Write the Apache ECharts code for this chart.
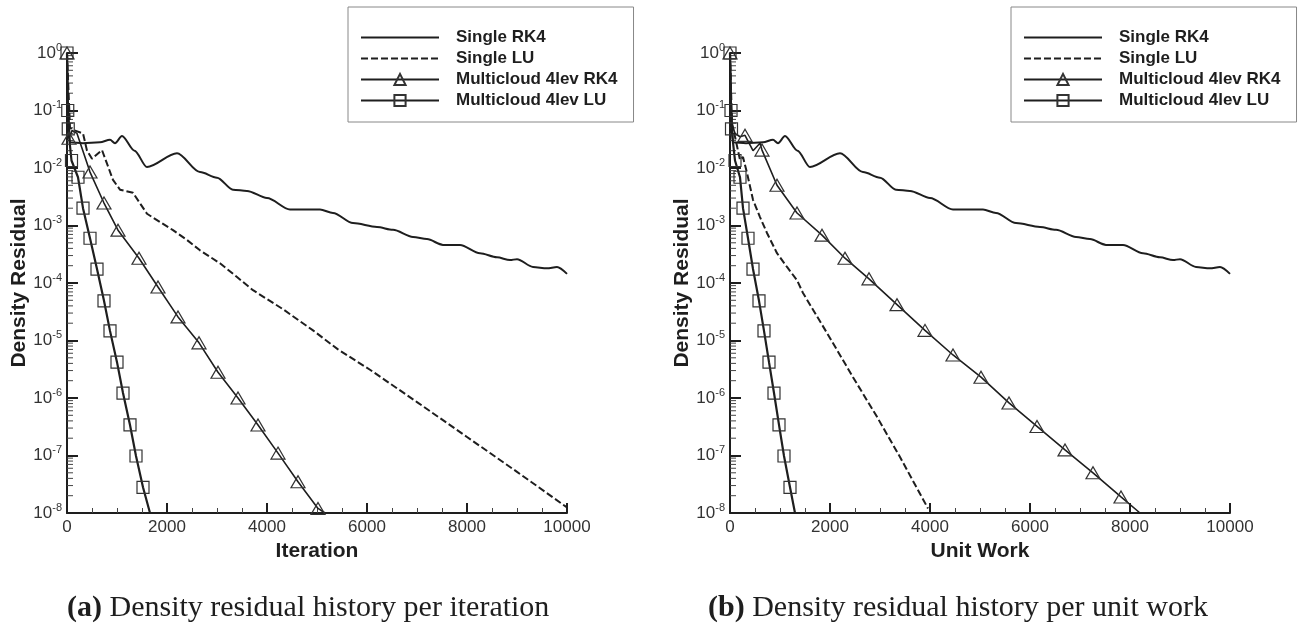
<!DOCTYPE html>
<html><head><meta charset="utf-8">
<script src="https://cdn.jsdelivr.net/npm/echarts@6/dist/echarts.min.js"></script>
<style>html,body{margin:0;padding:0;background:#fff}#c{width:1307px;height:632px}</style>
</head><body><div id="c"></div>
<script>
// ---- names & labels ----
const seriesNames = ['Single RK4', 'Single LU', 'Multicloud 4lev RK4', 'Multicloud 4lev LU'];
const xNames = ['Iteration', 'Unit Work'];
const yName = 'Density Residual';
const captions = [['(a)', ' Density residual history per iteration'], ['(b)', ' Density residual history per unit work']];

// ---- (a) per iteration ----
const singleRk4 = [[0,1],[20,0.12],[60,0.028],[320,0.027],[660,0.028],[860,0.031],[960,0.027],[1100,0.036],[1350,0.02],[1600,0.0104],[2200,0.018],[2660,0.0085],[3000,0.0068],[3320,0.0042],[3600,0.0040],[4000,0.0030],[4460,0.0019],[4860,0.0019],[5060,0.0019],[5320,0.00165],[5720,0.0011],[6200,0.00094],[6520,0.00084],[6920,0.00063],[7200,0.00058],[7520,0.00046],[7860,0.00046],[8260,0.00033],[8600,0.00028],[8860,0.00025],[9000,0.00026],[9320,0.00019],[9600,0.00018],[9800,0.00019],[10000,0.000144]];
const singleLuIter = [[0,1],[60,0.05],[120,0.046],[320,0.04],[400,0.02],[500,0.0145],[700,0.0205],[920,0.0062],[1060,0.0042],[1320,0.0037],[1600,0.0016],[1860,0.00115],[2120,0.00083],[2400,0.00056],[2660,0.00037],[3060,0.00022],[3400,0.000127],[3720,7.5e-5],[4320,3.5e-5],[4920,1.5e-5],[5420,7e-6],[6060,3.1e-6],[7000,8.5e-7],[8000,2.1e-7],[9000,5.2e-8],[10000,1.25e-8]];
const mcRk4IterLine = [[20,0.07],[100,0.045],[200,0.04],[300,0.022],[5160,1e-8]];
const mcRk4IterMarks = [[0,1],[40,0.033],[460,0.0085],[740,0.00246],[1020,0.00083],[1440,0.00027],[1820,8.5e-5],[2220,2.57e-5],[2640,9.1e-6],[3020,2.8e-6],[3420,1.0e-6],[3820,3.4e-7],[4220,1.1e-7],[4620,3.5e-8],[5020,1.2e-8]];
const mcLuIterLine = [[1660,1e-8]];
const mcLuIterMarks = [[0,1],[15,0.1],[25,0.048],[90,0.0135],[220,0.0069],[320,0.002],[460,0.0006],[600,0.000175],[740,4.9e-5],[860,1.47e-5],[1000,4.2e-6],[1120,1.22e-6],[1260,3.4e-7],[1380,9.8e-8],[1520,2.8e-8]];

// ---- (b) per unit work ----
const singleLuWork = [[0,1],[40,0.06],[100,0.035],[200,0.0138],[260,0.0155],[340,0.0082],[460,0.0028],[600,0.0014],[740,0.00074],[940,0.00033],[1140,0.00019],[1340,0.000112],[1460,6.7e-5],[1940,1.35e-5],[2460,2.3e-6],[2940,4.7e-7],[3400,9.4e-8],[3960,1.2e-8]];
const mcRk4WorkLine = [[30,0.06],[100,0.04],[200,0.035],[460,0.02],[600,0.027],[8200,1e-8]];
const mcRk4WorkMarks = [[0,1],[300,0.037],[640,0.0205],[940,0.005],[1340,0.00165],[1840,0.00068],[2300,0.00027],[2780,0.000118],[3340,4.2e-5],[3900,1.5e-5],[4460,5.6e-6],[5020,2.3e-6],[5580,8.2e-7],[6140,3.2e-7],[6700,1.25e-7],[7260,5.0e-8],[7820,1.9e-8]];
const mcLuWorkLine = [[1300,1e-8]];
const mcLuWorkMarks = [[0,1],[20,0.1],[30,0.048],[100,0.0135],[200,0.0069],[260,0.002],[360,0.0006],[460,0.000175],[580,4.9e-5],[680,1.47e-5],[780,4.2e-6],[880,1.22e-6],[980,3.4e-7],[1080,9.8e-8],[1200,2.8e-8]];

// axis range
const xMin = 0, xMax = 10000, xStep = 2000;
const yMin = 1e-8, yMax = 1;

// log minor tick positions (axis decoration)
const yMinor = [];
for (let e = -8; e < 0; e++) for (let m = 2; m <= 9; m++) yMinor.push(m * Math.pow(10, e));

const SANS = 'Liberation Sans, Arial, sans-serif';
const SERIF = 'Liberation Serif, Times New Roman, serif';
const INK = '#1e1e1e';

function merge(line, marks) {
  const pts = line.map(p => ({ value: p, symbol: 'none' })).concat(marks.map(p => ({ value: p })));
  pts.sort((a, b) => a.value[0] - b.value[0]);
  return pts;
}

const grids = [
  { left: 67, top: 53, width: 500, height: 460 },
  { left: 730, top: 53, width: 500, height: 460 }
];

function xAxis(i) {
  return {
    gridIndex: i, type: 'value', min: xMin, max: xMax, interval: xStep,
    name: xNames[i], nameLocation: 'middle', nameGap: 22,
    nameTextStyle: { fontFamily: SANS, fontWeight: 'bold', fontSize: 21, color: INK },
    axisLine: { lineStyle: { color: INK, width: 2 } },
    axisTick: { inside: true, length: 10, lineStyle: { color: INK, width: 2 } },
    minorTick: { show: true, splitNumber: 4, length: 5, lineStyle: { color: '#444', width: 1 } },
    splitLine: { show: false },
    axisLabel: { fontFamily: SANS, fontSize: 17, color: '#333', margin: 6, showMinLabel: true, showMaxLabel: true,
      formatter: v => String(v) }
  };
}
function yAxis(i) {
  return {
    gridIndex: i, type: 'log', logBase: 10, min: yMin, max: yMax, interval: 1,
    name: yName, nameLocation: 'middle', nameGap: 37, nameRotate: 90,
    nameTextStyle: { fontFamily: SANS, fontWeight: 'bold', fontSize: 21, color: INK },
    axisLine: { onZero: false, lineStyle: { color: INK, width: 2 } },
    axisTick: { inside: true, length: 11, lineStyle: { color: INK, width: 2 } },
    splitLine: { show: false },
    axisLabel: {
      margin: 5, showMinLabel: true, showMaxLabel: true,
      formatter: v => '{b|10}{s|' + Math.round(Math.log10(v)) + '}',
      rich: {
        b: { fontFamily: SANS, fontSize: 17, color: '#333', lineHeight: 22 },
        s: { fontFamily: SANS, fontSize: 11, color: '#333', verticalAlign: 'top', lineHeight: 12 }
      }
    }
  };
}

function lineSeries(i, name, data, extra) {
  return Object.assign({
    type: 'line', name, xAxisIndex: i, yAxisIndex: i, data,
    symbol: 'none', smooth: false, animation: false,
    lineStyle: { color: INK, width: 2 },
    itemStyle: { color: 'rgba(255,255,255,0)', borderColor: '#333', borderWidth: 1.2 },
    emphasis: { disabled: true }
  }, extra || {});
}

function minorTicks(i) {
  return {
    type: 'custom', xAxisIndex: i, yAxisIndex: i, silent: true, clip: false, animation: false,
    data: yMinor.map(v => [xMin, v]),
    renderItem: (params, api) => {
      const p = api.coord([api.value(0), api.value(1)]);
      return { type: 'line', shape: { x1: p[0], y1: p[1], x2: p[0] + 6, y2: p[1] }, style: { stroke: '#444', lineWidth: 1 } };
    }
  };
}

const tri = { symbol: 'triangle', symbolSize: [14, 12], showSymbol: true, showAllSymbol: true };
const sq = { symbol: 'rect', symbolSize: 12, showSymbol: true, showAllSymbol: true };
const dashed = { lineStyle: { color: INK, width: 2, type: [7, 3] } };
const soft = { smooth: 0.3, smoothMonotone: 'x' };

function legend(left) {
  return {
    left, top: 7, orient: 'vertical',
    data: seriesNames.map((n, k) => k < 2 ? { name: n, itemStyle: { opacity: 0 } } : { name: n }),
    padding: [20, 16, 11, 12], borderColor: '#888', borderWidth: 1, backgroundColor: '#fff',
    itemWidth: 78, itemHeight: 14, itemGap: 0,
    selectedMode: false,
    textStyle: { fontFamily: SANS, fontWeight: 'bold', fontSize: 17, color: INK, lineHeight: 21, padding: [0, 0, 0, 12] }
  };
}

const option = {
  backgroundColor: '#fff',
  animation: false,
  title: captions.map((c, i) => ({
    text: '{b|' + c[0] + '}{n|' + c[1] + '}',
    left: i === 0 ? 62 : 703, top: 588,
    textStyle: { rich: {
      b: { fontFamily: SERIF, fontWeight: 'bold', fontSize: 30, color: INK },
      n: { fontFamily: SERIF, fontWeight: 'normal', fontSize: 30, color: INK }
    } }
  })),
  legend: [legend(348), legend(1011)],
  grid: grids,
  xAxis: [xAxis(0), xAxis(1)],
  yAxis: [yAxis(0), yAxis(1)],
  series: [
    lineSeries(0, seriesNames[0], singleRk4, soft),
    lineSeries(0, seriesNames[1], singleLuIter, dashed),
    lineSeries(0, seriesNames[2], merge(mcRk4IterLine, mcRk4IterMarks), Object.assign({ lineStyle: { color: INK, width: 1.6 } }, tri)),
    lineSeries(0, seriesNames[3], merge(mcLuIterLine, mcLuIterMarks), Object.assign({ lineStyle: { color: INK, width: 2.2 } }, sq)),
    lineSeries(1, seriesNames[0], singleRk4, soft),
    lineSeries(1, seriesNames[1], singleLuWork, dashed),
    lineSeries(1, seriesNames[2], merge(mcRk4WorkLine, mcRk4WorkMarks), Object.assign({ lineStyle: { color: INK, width: 1.6 } }, tri)),
    lineSeries(1, seriesNames[3], merge(mcLuWorkLine, mcLuWorkMarks), Object.assign({ lineStyle: { color: INK, width: 2.2 } }, sq)),
    minorTicks(0), minorTicks(1)
  ]
};

const chart = echarts.init(document.getElementById('c'), null, { renderer: 'canvas' });
chart.setOption(option);
</script>
</body></html>
